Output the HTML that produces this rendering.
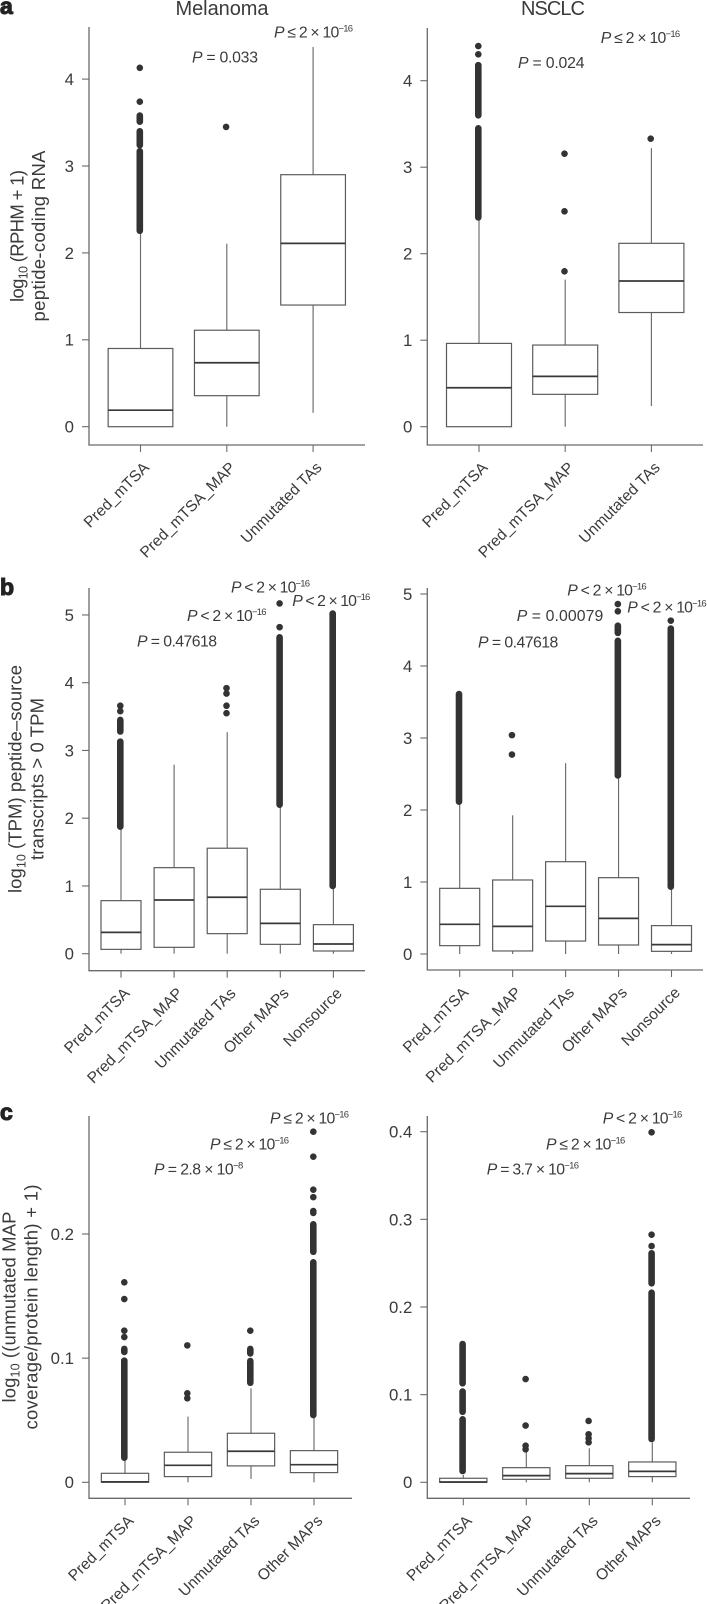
<!DOCTYPE html>
<html lang="en">
<head>
<meta charset="utf-8">
<title>Boxplots of peptide expression in melanoma and NSCLC</title>
<style>
html,body{margin:0;padding:0;background:#fff;}
body{width:707px;height:1604px;overflow:hidden;}
svg{display:block;}
text{font-family:"Liberation Sans",sans-serif;fill:#3b3b3b;}
.p{font-size:15.8px;}
.sup{font-size:9.5px;}
.ttl{font-size:20px;text-anchor:middle;}
.yt{font-size:18.5px;text-anchor:middle;}
.sub{font-size:12.5px;}
.pl{font-size:23px;font-weight:bold;fill:#222;stroke:#222;stroke-width:1.1px;}
</style>
</head>
<body>
<svg id="chart" xmlns="http://www.w3.org/2000/svg" width="707" height="1604" viewBox="0 0 707 1604">
  <rect x="0" y="0" width="707" height="1604" fill="#fff"/>

  <text class="pl" x="0" y="14">a</text>
  <text class="pl" x="0" y="595">b</text>
  <text class="pl" x="0" y="1120">c</text>

  <text class="ttl" x="222" y="15" textLength="93">Melanoma</text>
  <text class="ttl" x="553" y="15" textLength="64">NSCLC</text>

  <g transform="translate(23.5 236) rotate(-90)"><text class="yt" x="0" y="0" textLength="132">log<tspan class="sub" dy="4">10</tspan><tspan dy="-4"> (RPHM + 1)</tspan></text></g>
  <g transform="translate(45 236) rotate(-90)"><text class="yt" x="0" y="0" textLength="171">peptide-coding RNA</text></g>

  <g transform="translate(21.5 779) rotate(-90)"><text class="yt" x="0" y="0" textLength="228">log<tspan class="sub" dy="4">10</tspan><tspan dy="-4"> (TPM) peptide–source</tspan></text></g>
  <g transform="translate(43.5 779) rotate(-90)"><text class="yt" x="0" y="0" textLength="162">transcripts &gt; 0 TPM</text></g>

  <g transform="translate(15.5 1307) rotate(-90)"><text class="yt" x="0" y="0" textLength="191">log<tspan class="sub" dy="4">10</tspan><tspan dy="-4"> ((unmutated MAP</tspan></text></g>
  <g transform="translate(37.5 1307) rotate(-90)"><text class="yt" x="0" y="0" textLength="245">coverage/protein length) + 1)</text></g>

  <text class="p" x="192" y="62.5" textLength="66"><tspan font-style="italic">P</tspan> = 0.033</text>
  <text class="p" x="274" y="37.5" textLength="79"><tspan font-style="italic">P</tspan> ≤ 2 × 10<tspan class="sup" dy="-6">−16</tspan></text>
  <text class="p" x="518" y="68" textLength="66.5"><tspan font-style="italic">P</tspan> = 0.024</text>
  <text class="p" x="600.7" y="43" textLength="79.5"><tspan font-style="italic">P</tspan> ≤ 2 × 10<tspan class="sup" dy="-6">−16</tspan></text>

  <text class="p" x="137" y="646.5" textLength="80"><tspan font-style="italic">P</tspan> = 0.47618</text>
  <text class="p" x="187" y="621" textLength="79.5"><tspan font-style="italic">P</tspan> &lt; 2 × 10<tspan class="sup" dy="-6">−16</tspan></text>
  <text class="p" x="231" y="592.7" textLength="79"><tspan font-style="italic">P</tspan> &lt; 2 × 10<tspan class="sup" dy="-6">−16</tspan></text>
  <text class="p" x="292.3" y="606" textLength="78"><tspan font-style="italic">P</tspan> &lt; 2 × 10<tspan class="sup" dy="-6">−16</tspan></text>
  <text class="p" x="478" y="647.3" textLength="80.3"><tspan font-style="italic">P</tspan> = 0.47618</text>
  <text class="p" x="516.7" y="621" textLength="86.6"><tspan font-style="italic">P</tspan> = 0.00079</text>
  <text class="p" x="567.3" y="595.7" textLength="79.4"><tspan font-style="italic">P</tspan> &lt; 2 × 10<tspan class="sup" dy="-6">−16</tspan></text>
  <text class="p" x="627.3" y="612.3" textLength="79.4"><tspan font-style="italic">P</tspan> &lt; 2 × 10<tspan class="sup" dy="-6">−16</tspan></text>

  <text class="p" x="154" y="1174.7" textLength="89.3"><tspan font-style="italic">P</tspan> = 2.8 × 10<tspan class="sup" dy="-6">−8</tspan></text>
  <text class="p" x="210" y="1149.3" textLength="79"><tspan font-style="italic">P</tspan> ≤ 2 × 10<tspan class="sup" dy="-6">−16</tspan></text>
  <text class="p" x="270" y="1123.7" textLength="79"><tspan font-style="italic">P</tspan> ≤ 2 × 10<tspan class="sup" dy="-6">−16</tspan></text>
  <text class="p" x="486.7" y="1174.7" textLength="92.3"><tspan font-style="italic">P</tspan> = 3.7 × 10<tspan class="sup" dy="-6">−16</tspan></text>
  <text class="p" x="546" y="1149.3" textLength="79.3"><tspan font-style="italic">P</tspan> ≤ 2 × 10<tspan class="sup" dy="-6">−16</tspan></text>
  <text class="p" x="602.7" y="1123.3" textLength="79.6"><tspan font-style="italic">P</tspan> &lt; 2 × 10<tspan class="sup" dy="-6">−16</tspan></text>
</svg>

<script>
// ---- Categories ----
const categoriesThree = ['Pred_mTSA', 'Pred_mTSA_MAP', 'Unmutated TAs'];
const categoriesFive = ['Pred_mTSA', 'Pred_mTSA_MAP', 'Unmutated TAs', 'Other MAPs', 'Nonsource'];
const categoriesFour = ['Pred_mTSA', 'Pred_mTSA_MAP', 'Unmutated TAs', 'Other MAPs'];

// ---- Panel a, melanoma ----
const aLeftTicks = ['0', '1', '2', '3', '4'];
const aLeftQ1 = [0, 0.357, 1.40];
const aLeftMedian = [0.19, 0.736, 2.11];
const aLeftQ3 = [0.90, 1.11, 2.90];
const aLeftLow = [0, 0, 0.16];
const aLeftHigh = [2.25, 2.105, 4.37];
const aLeftOutliers = [[4.13, 3.74], [3.45], []];
const aLeftRuns = [[[3.58, 3.51], [3.40, 3.24], [3.17, 2.255]], [], []];

// ---- Panel a, NSCLC ----
const aRightTicks = ['0', '1', '2', '3', '4'];
const aRightQ1 = [0, 0.374, 1.32];
const aRightMedian = [0.45, 0.582, 1.684];
const aRightQ3 = [0.963, 0.944, 2.12];
const aRightLow = [0, 0, 0.24];
const aRightHigh = [2.39, 1.70, 3.22];
const aRightOutliers = [[4.40, 4.305], [3.156, 2.49, 1.796], [3.33]];
const aRightRuns = [[[4.18, 3.60], [3.45, 2.42]], [], []];

// ---- Panel b, melanoma ----
const bLeftTicks = ['0', '1', '2', '3', '4', '5'];
const bLeftQ1 = [0.064, 0.094, 0.296, 0.138, 0.04];
const bLeftMedian = [0.315, 0.793, 0.833, 0.448, 0.143];
const bLeftQ3 = [0.783, 1.27, 1.557, 0.951, 0.429];
const bLeftLow = [0, 0, 0, 0, 0];
const bLeftHigh = [1.83, 2.79, 3.27, 2.17, 0.97];
const bLeftOutliers = [[3.66, 3.58], [], [3.92, 3.84, 3.66, 3.55], [5.17, 4.82], []];
const bLeftRuns = [[[3.45, 3.28], [3.13, 1.875]], [], [], [[4.67, 2.20]], [[5.02, 1.0]]];

// ---- Panel b, NSCLC ----
const bRightTicks = ['0', '1', '2', '3', '4', '5'];
const bRightQ1 = [0.116, 0.042, 0.18, 0.125, 0.037];
const bRightMedian = [0.412, 0.384, 0.662, 0.495, 0.13];
const bRightQ3 = [0.912, 1.028, 1.282, 1.06, 0.394];
const bRightLow = [0, 0, 0, 0, 0];
const bRightHigh = [2.08, 1.926, 2.65, 2.44, 0.90];
const bRightOutliers = [[], [3.04, 2.77], [], [4.86, 4.76], [4.63]];
const bRightRuns = [[[3.61, 2.115]], [], [], [[4.56, 4.46], [4.35, 2.48]], [[4.52, 0.935]]];

// ---- Panel c, melanoma ----
const cLeftTicks = ['0', '0.1', '0.2'];
const cLeftQ1 = [0, 0.0046, 0.0132, 0.0078];
const cLeftMedian = [0.0004, 0.0137, 0.025, 0.0142];
const cLeftQ3 = [0.00725, 0.0242, 0.0395, 0.0255];
const cLeftLow = [0, 0, 0.0027, 0];
const cLeftHigh = [0.018, 0.0529, 0.0757, 0.0524];
const cLeftOutliers = [[0.1611, 0.1476, 0.1221, 0.117], [0.1103, 0.0717, 0.0677], [0.1221], [0.2824, 0.2623, 0.2357, 0.2297, 0.2185, 0.217]];
const cLeftRuns = [[[0.1074, 0.105], [0.098, 0.0198]], [], [[0.1074, 0.1038], [0.0977, 0.0802]], [[0.2078, 0.1857], [0.1772, 0.0542]]];

// ---- Panel c, NSCLC ----
const cRightTicks = ['0', '0.1', '0.2', '0.3', '0.4'];
const cRightQ1 = [0, 0.0034, 0.0046, 0.0065];
const cRightMedian = [0.0003, 0.0076, 0.0099, 0.0125];
const cRightQ3 = [0.0046, 0.0167, 0.019, 0.0232];
const cRightLow = [0, 0, 0, 0];
const cRightHigh = [0.0084, 0.035, 0.0388, 0.0453];
const cRightOutliers = [[], [0.1178, 0.0647, 0.0418, 0.0376], [0.07, 0.0548, 0.0502, 0.0456], [0.3993, 0.2825, 0.2696]];
const cRightRuns = [[[0.1578, 0.113], [0.1035, 0.0805], [0.0719, 0.0129]], [], [], [[0.2613, 0.227], [0.2163, 0.0494]]];

const SVG_NS = 'http://www.w3.org/2000/svg';
const svgRoot = document.getElementById('chart');
const AXIS_COLOR = '#6a6a6a';
const BOX_COLOR = '#5c5c5c';
const DOT_COLOR = '#333333';
const DOT_RADIUS = 3.3;

function make(parent, tag, attrs) {
  const el = document.createElementNS(SVG_NS, tag);
  for (const key in attrs) el.setAttribute(key, attrs[key]);
  parent.appendChild(el);
  return el;
}

function drawPanel(cfg) {
  const yPos = function (v) { return cfg.zeroY - v * cfg.unitPx; };
  const xPos = function (i) { return cfg.firstX + i * cfg.stepX; };

  const panel = make(svgRoot, 'g', {});
  
  

  const yAxis = make(panel, 'line', { x1: cfg.axisX, x2: cfg.axisX, y1: cfg.top, y2: cfg.bottom, stroke: AXIS_COLOR, 'stroke-width': 1.3 });
  
  

  const xAxis = make(panel, 'line', { x1: cfg.axisX - 0.6, x2: cfg.right, y1: cfg.bottom, y2: cfg.bottom, stroke: AXIS_COLOR, 'stroke-width': 1.3 });
  
  

  cfg.ticks.forEach(function (label) {
    const y = yPos(Number(label));
    const tick = make(panel, 'line', { x1: cfg.axisX - 7, x2: cfg.axisX, y1: y, y2: y, stroke: AXIS_COLOR, 'stroke-width': 1.1 });
    
    
    const tickText = make(panel, 'text', { x: cfg.axisX - 15, y: y + 5.9, 'text-anchor': 'end', 'font-size': 16.8 });
    tickText.textContent = label;
    
    
  });

  cfg.categories.forEach(function (label, i) {
    const x = xPos(i);
    const tick = make(panel, 'line', { x1: x, x2: x, y1: cfg.bottom, y2: cfg.bottom + 7, stroke: AXIS_COLOR, 'stroke-width': 1.1 });
    
    
    const lx = x + 9.5;
    const ly = cfg.bottom + 23.5;
    const catText = make(panel, 'text', { x: lx, y: ly, 'text-anchor': 'end', 'font-size': 15.6, transform: 'rotate(-45 ' + lx + ' ' + ly + ')' });
    catText.textContent = label;
    
    

    const group = make(panel, 'g', {});
    
    

    const hw = cfg.boxW / 2;
    const whiskerHigh = make(group, 'line', { x1: x, x2: x, y1: yPos(cfg.q3[i]), y2: yPos(cfg.high[i]), stroke: AXIS_COLOR, 'stroke-width': 1.15 });
    
    

    const whiskerLow = make(group, 'line', { x1: x, x2: x, y1: yPos(cfg.q1[i]), y2: yPos(cfg.low[i]), stroke: AXIS_COLOR, 'stroke-width': 1.15 });
    
    

    const box = make(group, 'rect', { x: x - hw, y: yPos(cfg.q3[i]), width: cfg.boxW, height: yPos(cfg.q1[i]) - yPos(cfg.q3[i]), fill: '#fff', stroke: BOX_COLOR, 'stroke-width': 1.2 });
    
    

    const median = make(group, 'line', { x1: x - hw, x2: x + hw, y1: yPos(cfg.median[i]), y2: yPos(cfg.median[i]), stroke: '#383838', 'stroke-width': 1.7 });
    
    

    cfg.runs[i].forEach(function (run) {
      const band = make(group, 'line', { x1: x - 0.7, x2: x - 0.7, y1: yPos(run[0]), y2: yPos(run[1]), stroke: DOT_COLOR, 'stroke-width': DOT_RADIUS * 2, 'stroke-linecap': 'round' });
      
      
    });

    cfg.outliers[i].forEach(function (v) {
      const dot = make(group, 'circle', { cx: x - 0.7, cy: yPos(v), r: DOT_RADIUS, fill: DOT_COLOR });
      
      
    });
  });
}

drawPanel({ name: 'panel-a-melanoma', axisX: 89, top: 27, bottom: 445, right: 365, zeroY: 426.7, unitPx: 86.9, firstX: 140.5, stepX: 86.3, boxW: 64.7,
  categories: categoriesThree, ticks: aLeftTicks, q1: aLeftQ1, median: aLeftMedian, q3: aLeftQ3, low: aLeftLow, high: aLeftHigh, outliers: aLeftOutliers, runs: aLeftRuns });

drawPanel({ name: 'panel-a-nsclc', axisX: 427.3, top: 28, bottom: 445, right: 703, zeroY: 426.7, unitPx: 86.5, firstX: 479, stepX: 86.2, boxW: 65,
  categories: categoriesThree, ticks: aRightTicks, q1: aRightQ1, median: aRightMedian, q3: aRightQ3, low: aRightLow, high: aRightHigh, outliers: aRightOutliers, runs: aRightRuns });

drawPanel({ name: 'panel-b-melanoma', axisX: 89, top: 588, bottom: 970.7, right: 365, zeroY: 953.7, unitPx: 67.75, firstX: 121, stepX: 53.1, boxW: 40,
  categories: categoriesFive, ticks: bLeftTicks, q1: bLeftQ1, median: bLeftMedian, q3: bLeftQ3, low: bLeftLow, high: bLeftHigh, outliers: bLeftOutliers, runs: bLeftRuns });

drawPanel({ name: 'panel-b-nsclc', axisX: 427.3, top: 588, bottom: 970, right: 703, zeroY: 954, unitPx: 72, firstX: 459.7, stepX: 52.95, boxW: 40,
  categories: categoriesFive, ticks: bRightTicks, q1: bRightQ1, median: bRightMedian, q3: bRightQ3, low: bRightLow, high: bRightHigh, outliers: bRightOutliers, runs: bRightRuns });

drawPanel({ name: 'panel-c-melanoma', axisX: 89, top: 1116, bottom: 1498.3, right: 352, zeroY: 1482.3, unitPx: 1241.5, firstX: 125, stepX: 63, boxW: 47.3,
  categories: categoriesFour, ticks: cLeftTicks, q1: cLeftQ1, median: cLeftMedian, q3: cLeftQ3, low: cLeftLow, high: cLeftHigh, outliers: cLeftOutliers, runs: cLeftRuns });

drawPanel({ name: 'panel-c-nsclc', axisX: 427.3, top: 1116, bottom: 1498.3, right: 690, zeroY: 1482.3, unitPx: 876.5, firstX: 463.3, stepX: 63, boxW: 47.3,
  categories: categoriesFour, ticks: cRightTicks, q1: cRightQ1, median: cRightMedian, q3: cRightQ3, low: cRightLow, high: cRightHigh, outliers: cRightOutliers, runs: cRightRuns });
</script>
</body>
</html>
